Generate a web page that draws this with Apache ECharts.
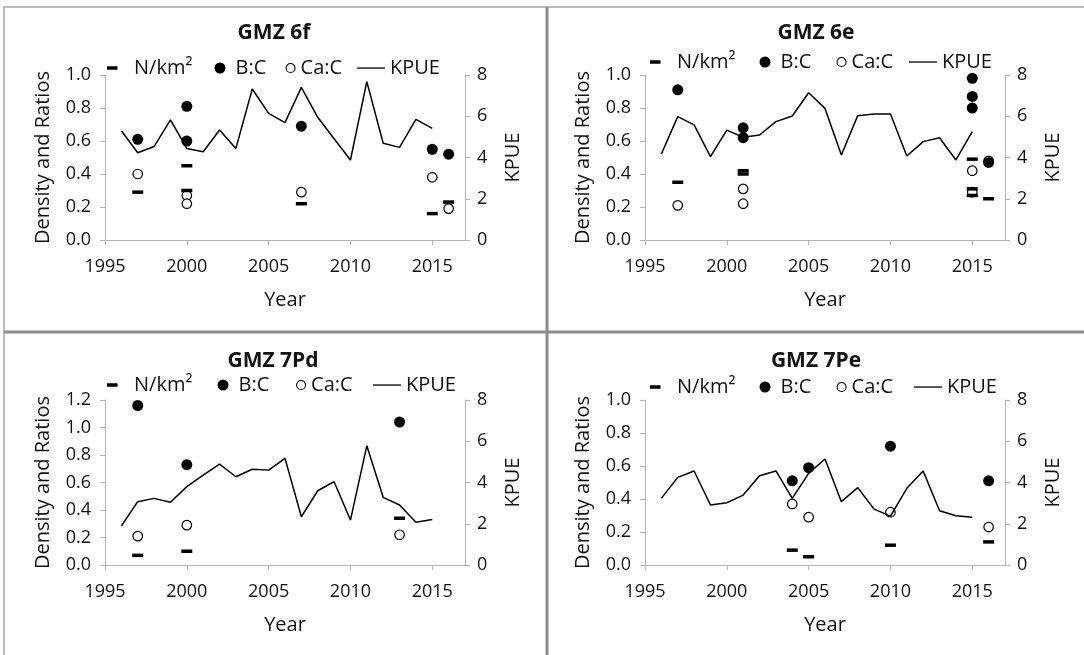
<!DOCTYPE html>
<html>
<head>
<meta charset="utf-8">
<script src="https://cdn.jsdelivr.net/npm/echarts@6/dist/echarts.min.js"></script>
<style>
html, body { margin: 0; padding: 0; background: #fff; }
#main { width: 1084px; height: 655px; }
</style>
</head>
<body>
<div id="main"></div>
<script>
// KPUE survey years (same for all four zones)
var kpueYears = [1996, 1997, 1998, 1999, 2000, 2001, 2002, 2003, 2004, 2005,
                 2006, 2007, 2008, 2009, 2010, 2011, 2012, 2013, 2014, 2015];

var kpue6f  = [5.30, 4.23, 4.53, 5.82, 4.44, 4.28, 5.33, 4.44, 7.32, 6.14,
               5.69, 7.40, 5.95, 4.91, 3.88, 7.68, 4.69, 4.49, 5.85, 5.41];
var kpue6e  = [4.17, 5.98, 5.58, 4.04, 5.33, 4.98, 5.09, 5.74, 6.01, 7.14,
               6.38, 4.12, 6.03, 6.11, 6.11, 4.07, 4.77, 4.96, 3.88, 5.25];
var kpue7Pd = [1.89, 3.07, 3.23, 3.04, 3.80, 4.36, 4.89, 4.28, 4.64, 4.60,
               5.17, 2.34, 3.60, 4.04, 2.18, 5.78, 3.28, 2.91, 2.07, 2.21];
var kpue7Pe = [3.23, 4.25, 4.56, 2.91, 3.02, 3.39, 4.33, 4.56, 3.23, 4.44,
               5.14, 3.07, 3.75, 2.71, 2.37, 3.72, 4.56, 2.63, 2.39, 2.31];

// [year, value] pairs
var density6f = [[1997, 0.29], [2000, 0.45], [2000, 0.30], [2007, 0.22], [2015, 0.16], [2016, 0.23]];
var bc6f      = [[1997, 0.61], [2000, 0.81], [2000, 0.60], [2007, 0.69], [2015, 0.55], [2016, 0.52]];
var cac6f     = [[1997, 0.40], [2000, 0.27], [2000, 0.22], [2007, 0.29], [2015, 0.38], [2016, 0.19]];

var density6e = [[1997, 0.35], [2001, 0.40], [2001, 0.42], [2015, 0.49], [2015, 0.31], [2015, 0.27], [2016, 0.25]];
var bc6e      = [[1997, 0.91], [2001, 0.68], [2001, 0.62], [2015, 0.98], [2015, 0.87], [2015, 0.80], [2016, 0.47]];
var cac6e     = [[1997, 0.21], [2001, 0.31], [2001, 0.22], [2015, 0.42], [2015, 0.29], [2016, 0.48]];

var density7Pd = [[1997, 0.07], [2000, 0.10], [2013, 0.34]];
var bc7Pd      = [[1997, 1.16], [2000, 0.73], [2013, 1.04]];
var cac7Pd     = [[1997, 0.21], [2000, 0.29], [2013, 0.22]];

var density7Pe = [[2004, 0.09], [2005, 0.05], [2010, 0.12], [2016, 0.14]];
var bc7Pe      = [[2004, 0.51], [2005, 0.59], [2010, 0.72], [2016, 0.51]];
var cac7Pe     = [[2004, 0.37], [2005, 0.29], [2010, 0.32], [2016, 0.23]];

var FONT = '"Open Sans", sans-serif';
var TXT = '#111';
var AX = '#b3b3b3';

var panels = [
    {title: 'GMZ 6f',  x: 105, y: 75,  yMax: 1.0, kpue: kpue6f,  dens: density6f,  bc: bc6f,  cac: cac6f,
     tx: 274, ty: 23,  leg: [107, 214.5, 285, 357], legY: 68},
    {title: 'GMZ 6e',  x: 645, y: 75,  yMax: 1.0, kpue: kpue6e,  dens: density6e,  bc: bc6e,  cac: cac6e,
     tx: 816, ty: 23,  leg: [650, 759.5, 836, 909], legY: 62},
    {title: 'GMZ 7Pd', x: 105, y: 400, yMax: 1.2, kpue: kpue7Pd, dens: density7Pd, bc: bc7Pd, cac: cac7Pd,
     tx: 273, ty: 351, leg: [107, 217.5, 295.5, 373], legY: 385},
    {title: 'GMZ 7Pe', x: 645, y: 400, yMax: 1.0, kpue: kpue7Pe, dens: density7Pe, bc: bc7Pe, cac: cac7Pe,
     tx: 816, ty: 351, leg: [650, 759.5, 836, 914], legY: 387}
];

var legendItems = [
    {name: 'N/km²', icon: 'path://M0,0M22,12M0,4.25h10.5v3.5h-10.5z', w: 22,
     itemStyle: {color: '#000', borderWidth: 0}},
    {name: 'B:C', icon: 'path://M0,0M16,12M0,6a5.5,5.5 0 1,0 11,0a5.5,5.5 0 1,0 -11,0z', w: 16,
     itemStyle: {color: '#000', borderWidth: 0}},
    {name: 'Ca:C', icon: 'path://M0,0M10,12M0.5,6a4.5,4.5 0 1,0 9,0a4.5,4.5 0 1,0 -9,0z', w: 10,
     itemStyle: {color: '#fff', borderColor: '#000', borderWidth: 1.1}},
    {name: 'KPUE', icon: 'path://M0,0M28,12M0,5.4h28v1.3h-28z', w: 28,
     itemStyle: {color: '#000', borderWidth: 0}}
];

var option = {
    backgroundColor: '#fff',
    animation: false,
    textStyle: {fontFamily: FONT, color: TXT},
    title: [], legend: [], grid: [], xAxis: [], yAxis: [], series: [],
    graphic: [
        {type: 'rect', shape: {x: 4, y: 7, width: 1100, height: 700},
         style: {fill: 'none', stroke: '#a6a6a6', lineWidth: 1.5}, z: 100},
        {type: 'line', shape: {x1: 547, y1: 7, x2: 547, y2: 655},
         style: {stroke: '#8c8c8c', lineWidth: 3}, z: 100},
        {type: 'line', shape: {x1: 4, y1: 332, x2: 1084, y2: 332},
         style: {stroke: '#8c8c8c', lineWidth: 3}, z: 100}
    ]
};

panels.forEach(function (p, i) {
    option.title.push({
        text: p.title, left: p.tx, top: p.ty, textAlign: 'center', padding: 0,
        textStyle: {fontFamily: FONT, fontSize: 21, fontWeight: 'bold', color: TXT}
    });
    legendItems.forEach(function (it, k) {
        option.legend.push({
            data: [{name: it.name, icon: it.icon, itemStyle: it.itemStyle}],
            left: p.leg[k], top: p.legY - 10, padding: 0,
            itemWidth: it.w, itemHeight: 12, selectedMode: false,
            textStyle: {fontFamily: FONT, fontSize: 20, color: TXT}
        });
    });
    option.grid.push({left: p.x, top: p.y, width: 360, height: 165});
    option.xAxis.push({
        type: 'value', gridIndex: i, min: 1995, max: 2017, interval: 5,
        name: 'Year', nameLocation: 'middle', nameGap: 50,
        nameTextStyle: {fontFamily: FONT, fontSize: 20, color: TXT},
        axisLine: {lineStyle: {color: AX, width: 1}},
        axisTick: {inside: false, length: 5, lineStyle: {color: AX}},
        axisLabel: {fontFamily: FONT, fontSize: 18, color: TXT, margin: 18, showMaxLabel: false,
                    formatter: function (v) { return String(v); }},
        splitLine: {show: false}
    });
    option.yAxis.push({
        type: 'value', gridIndex: i, position: 'left', min: 0, max: p.yMax, interval: 0.2,
        name: 'Density and Ratios', nameLocation: 'middle', nameGap: 52, nameRotate: 90,
        nameTextStyle: {fontFamily: FONT, fontSize: 20, color: TXT},
        axisLine: {show: true, lineStyle: {color: AX, width: 1}},
        axisTick: {show: true, inside: false, length: 5, lineStyle: {color: AX}},
        axisLabel: {fontFamily: FONT, fontSize: 18, color: TXT, margin: 14,
                    formatter: function (v) { return v.toFixed(1); }},
        splitLine: {show: false}
    });
    option.yAxis.push({
        type: 'value', gridIndex: i, position: 'right', min: 0, max: 8, interval: 2,
        name: 'KPUE', nameLocation: 'middle', nameGap: 38, nameRotate: 90,
        nameTextStyle: {fontFamily: FONT, fontSize: 20, color: TXT},
        axisLine: {show: true, lineStyle: {color: AX, width: 1}},
        axisTick: {show: true, inside: false, length: 5, lineStyle: {color: AX}},
        axisLabel: {fontFamily: FONT, fontSize: 18, color: TXT, margin: 12},
        splitLine: {show: false}
    });

    option.series.push({
        name: 'KPUE', type: 'line', xAxisIndex: i, yAxisIndex: 2 * i + 1,
        data: kpueYears.map(function (yr, j) { return [yr, p.kpue[j]]; }),
        symbol: 'none', lineStyle: {color: '#000', width: 1.5}, itemStyle: {color: '#000'}
    });
    option.series.push({
        name: 'Ca:C', type: 'scatter', xAxisIndex: i, yAxisIndex: 2 * i,
        data: p.cac, symbol: 'circle', symbolSize: 9.5,
        itemStyle: {color: '#fff', borderColor: '#000', borderWidth: 1.2, opacity: 1}
    });
    option.series.push({
        name: 'B:C', type: 'scatter', xAxisIndex: i, yAxisIndex: 2 * i,
        data: p.bc, symbol: 'circle', symbolSize: 11,
        itemStyle: {color: '#000', opacity: 1}
    });
    option.series.push({
        name: 'N/km²', type: 'scatter', xAxisIndex: i, yAxisIndex: 2 * i,
        data: p.dens, symbol: 'rect', symbolSize: [11, 3.5],
        itemStyle: {color: '#000', opacity: 1}
    });
});

var myChart = echarts.init(document.getElementById('main'));
myChart.setOption(option);
</script>
</body>
</html>
